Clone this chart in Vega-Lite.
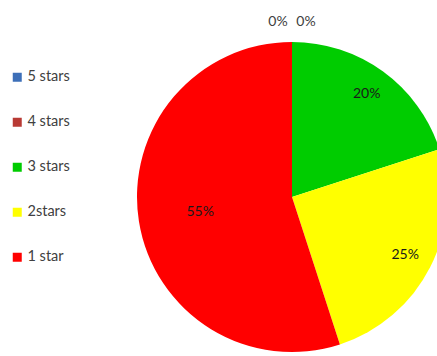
{
  "$schema": "https://vega.github.io/schema/vega-lite/v6.json",
  "autosize": "none",
  "width": 290,
  "height": 322,
  "padding": {"left": 147, "top": 36, "right": 0, "bottom": 0},
  "background": "white",
  "config": {"view": {"stroke": null}, "font": "Lato"},
  "data": {
    "values": [
      {"rating": "5 stars", "stars": 5, "share": 0, "label": "0%"},
      {"rating": "4 stars", "stars": 4, "share": 0, "label": "0%"},
      {"rating": "3 stars", "stars": 3, "share": 20, "label": "20%"},
      {"rating": "2stars", "stars": 2, "share": 25, "label": "25%"},
      {"rating": "1 star", "stars": 1, "share": 55, "label": "55%"}
    ]
  },
  "encoding": {
    "theta": {"field": "share", "type": "quantitative", "stack": true},
    "order": {"field": "stars", "type": "quantitative", "sort": "descending"}
  },
  "layer": [
    {
      "mark": {"type": "arc", "outerRadius": 155, "stroke": null},
      "encoding": {
        "color": {
          "field": "rating",
          "type": "nominal",
          "scale": {
            "domain": ["5 stars", "4 stars", "3 stars", "2stars", "1 star"],
            "range": ["#3d6fb8", "#b83a34", "#00cc00", "#ffff00", "#ff0000"]
          },
          "legend": {
            "title": null,
            "orient": "none",
            "legendX": -137,
            "legendY": 34,
            "symbolType": "square",
            "symbolSize": 81,
            "symbolStrokeWidth": 0,
            "labelFont": "Lato",
            "labelFontSize": 14.5,
            "labelColor": "#404040",
            "labelOffset": 3,
            "rowPadding": 30
          }
        }
      }
    },
    {
      "mark": {"type": "text", "radius": 127, "font": "Lato", "fontSize": 14, "color": "#1a1a1a"},
      "encoding": {"text": {"condition": {"test": "datum.stars == 3 || datum.stars == 2", "field": "label"}, "value": ""}}
    },
    {
      "mark": {"type": "text", "radius": 93, "font": "Lato", "fontSize": 14, "color": "#1a1a1a"},
      "encoding": {"text": {"condition": {"test": "datum.stars == 1", "field": "label"}, "value": ""}}
    },
    {
      "mark": {"type": "text", "radius": 175, "dx": -14, "font": "Lato", "fontSize": 14, "color": "#404040"},
      "encoding": {"text": {"condition": {"test": "datum.stars == 5", "field": "label"}, "value": ""}}
    },
    {
      "mark": {"type": "text", "radius": 175, "dx": 14, "font": "Lato", "fontSize": 14, "color": "#404040"},
      "encoding": {"text": {"condition": {"test": "datum.stars == 4", "field": "label"}, "value": ""}}
    }
  ]
}
